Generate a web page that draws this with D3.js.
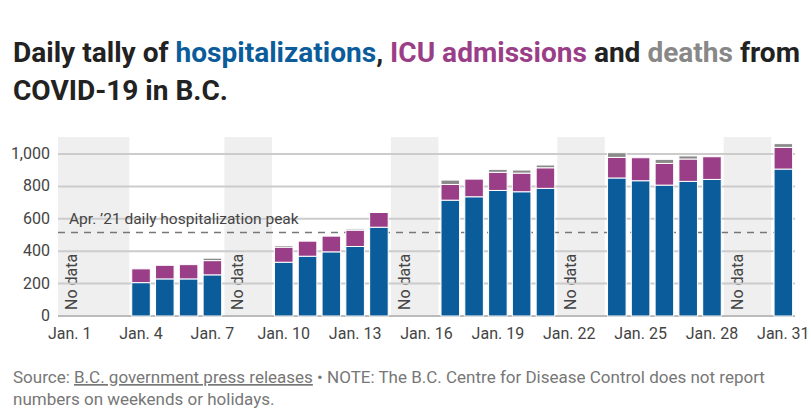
<!DOCTYPE html>
<html><head><meta charset="utf-8">
<script src="https://cdnjs.cloudflare.com/ajax/libs/d3/7.8.5/d3.min.js"></script>
<style>
body{margin:0;background:#fff;font-family:Roboto,sans-serif}
</style></head><body>
<div id="chart"></div>
<script>
var width = 811, height = 415
var margin = {left: 58, right: 16, top: 142, bottom: 99}

// data
var days = d3.range(1, 32)
var tickDays = [1, 4, 7, 10, 13, 16, 19, 22, 25, 28, 31]
var noData = [[1, 3], [8, 9], [15, 16], [22, 23], [29, 30]]
var dataDays = [4, 5, 6, 7, 10, 11, 12, 13, 14, 17, 18, 19, 20, 21, 24, 25, 26, 27, 28, 31]
var hosp = [206, 229, 229, 254, 332, 369, 396, 429, 548, 715, 736, 775, 767, 788, 852, 835, 808, 831, 843, 907]
var icu = [85, 84, 88, 88, 93, 93, 97, 101, 91, 97, 109, 112, 115, 127, 127, 142, 134, 138, 140, 134]
var deaths = [0, 0, 0, 15, 10, 0, 0, 8, 0, 27, 0, 18, 19, 17, 29, 0, 25, 19, 0, 23]
var peak = 515
var yTicks = [0, 200, 400, 600, 800, 1000]

var svg = d3.select("#chart").append("svg").attr("width", width).attr("height", height)

// title
var title = svg.append("text").attr("x", 13).attr("y", 62)
  .style("font-size", "27px").style("font-weight", "bold").style("fill", "#222")
  .attr("textLength", 787).attr("lengthAdjust", "spacingAndGlyphs")
title.append("tspan").text("Daily tally of ")
title.append("tspan").text("hospitalizations").style("fill", "#0b5c9b")
title.append("tspan").text(", ")
title.append("tspan").text("ICU admissions").style("fill", "#9a3f87")
title.append("tspan").text(" and ")
title.append("tspan").text("deaths").style("fill", "#888")
title.append("tspan").text(" from")
svg.append("text").attr("x", 13).attr("y", 100)
  .style("font-size", "27px").style("font-weight", "bold").style("fill", "#222")
  .attr("textLength", 215).attr("lengthAdjust", "spacingAndGlyphs")
  .text("COVID-19 in B.C.")

var x = d3.scaleBand().domain(days).range([margin.left, width - margin.right]).paddingInner(0.22).paddingOuter(0.1)
var y = d3.scaleLinear().domain([0, 1000]).range([height - margin.bottom, 154])

// no data bands
noData.forEach(function (r) {
  var x0 = margin.left + (r[0] - 1) * (width - margin.left - margin.right) / 31
  var x1 = margin.left + r[1] * (width - margin.left - margin.right) / 31
  svg.append("rect").attr("x", x0).attr("width", x1 - x0)
    .attr("y", 137).attr("height", y(0) - 137).attr("fill", "#efefef")
  svg.append("text")
    .attr("transform", `translate(${x0 + 19},${y(0) - 6}) rotate(-90)`)
    .style("font-size", "16px").style("fill", "#444").text("No data")
})

// grid
svg.append("g").selectAll("line").data(yTicks).enter().append("line")
  .attr("x1", margin.left).attr("x2", width - margin.right)
  .attr("y1", d => y(d)).attr("y2", d => y(d))
  .style("stroke", d => d == 0 ? "#bbb" : "#ccc").style("stroke-width", 2)

svg.append("g").selectAll("text").data(yTicks).enter().append("text")
  .attr("x", 50).attr("y", d => y(d) + 5).attr("text-anchor", "end")
  .style("font-size", "16px").style("fill", "#444")
  .text(d => d3.format(",")(d))

// peak line
svg.append("line").attr("x1", margin.left).attr("x2", width - margin.right)
  .attr("y1", y(peak)).attr("y2", y(peak))
  .style("stroke", "#777").style("stroke-width", 1.5).style("stroke-dasharray", "7,6")
svg.append("text").attr("x", 69).attr("y", y(peak) - 9)
  .style("font-size", "15.5px").style("fill", "#444").text("Apr. \u201921 daily hospitalization peak")

// bars
var bars = svg.append("g")
dataDays.forEach(function (d, i) {
  var segs = [[0, hosp[i], "#0b5c9b"], [hosp[i], hosp[i] + icu[i], "#9a3f87"],
    [hosp[i] + icu[i], hosp[i] + icu[i] + deaths[i], "#8a8a8a"]]
  segs.forEach(function (s) {
    if (s[1] - s[0] <= 0) return
    bars.append("rect").attr("x", x(d)).attr("width", x.bandwidth())
      .attr("y", y(s[1])).attr("height", y(s[0]) - y(s[1]))
      .attr("fill", s[2]).attr("stroke", "#fff").attr("stroke-width", 1)
  })
})

// x labels
svg.append("g").selectAll("text").data(tickDays).enter().append("text")
  .attr("x", d => x(d) + x.bandwidth() / 2).attr("y", 339).attr("text-anchor", "middle")
  .style("font-size", "16px").style("fill", "#444").text(d => "Jan. " + d)

// source
var src = svg.append("text").attr("x", 13).attr("y", 383).style("font-size", "17px").style("fill", "#777")
src.append("tspan").text("Source: ")
src.append("tspan").text("B.C. government press releases").style("text-decoration", "underline")
src.append("tspan").text(" \u2022 NOTE: The B.C. Centre for Disease Control does not report")
svg.append("text").attr("x", 13).attr("y", 405).style("font-size", "17px").style("fill", "#777")
  .text("numbers on weekends or holidays.")
</script>
</body></html>
